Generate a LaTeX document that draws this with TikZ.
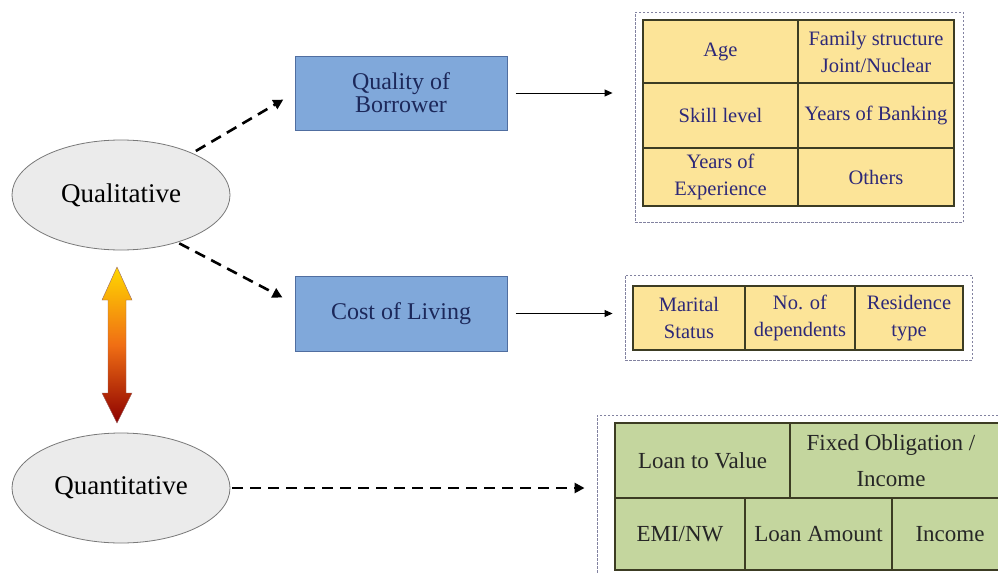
\documentclass[tikz,border=0pt]{standalone}
\usepackage{fontspec}
\setmainfont{Liberation Serif}
\usetikzlibrary{arrows.meta,shapes.geometric,calc}
\definecolor{ellfill}{RGB}{235,235,235}
\definecolor{elldraw}{RGB}{120,120,120}
\definecolor{bluefill}{RGB}{128,168,218}
\definecolor{bluedraw}{RGB}{80,110,160}
\definecolor{bluetext}{RGB}{28,40,90}
\definecolor{yelfill}{RGB}{252,228,152}
\definecolor{yeltext}{RGB}{45,40,120}
\definecolor{tabdraw}{RGB}{60,60,35}
\definecolor{grnfill}{RGB}{196,214,158}
\definecolor{outdraw}{RGB}{130,130,160}
\definecolor{ytop}{RGB}{255,215,0}
\definecolor{ymid}{RGB}{240,110,20}
\definecolor{ybot}{RGB}{140,0,0}
\tikzset{
  ell/.style={ellipse, draw=elldraw, line width=0.8pt, fill=ellfill, inner sep=0pt,
    minimum width=218pt, minimum height=110pt, font=\fontsize{27}{30}\selectfont},
  bbox/.style={rectangle, draw=bluedraw, line width=1pt, fill=bluefill, inner sep=0pt,
    minimum width=212pt, text=bluetext, align=center, font=\fontsize{24}{23}\selectfont},
  ycell/.style={rectangle, draw=tabdraw, line width=1.2pt, fill=yelfill, inner sep=0pt,
    text=yeltext, align=center, font=\fontsize{20.5}{27}\selectfont},
  gcell/.style={rectangle, draw=tabdraw, line width=1.2pt, fill=grnfill, inner sep=0pt,
    text=black!85, align=center, font=\fontsize{23}{36}\selectfont},
  gtext/.style={inner sep=0pt, text=black!85, align=center, font=\fontsize{23}{36}\selectfont},
  outbox/.style={rectangle, draw=outdraw, line width=0.9pt, dash pattern=on 2.5pt off 1.5pt, inner sep=0pt},
  dasharrow/.style={line width=2.6pt, dash pattern=on 11pt off 7pt, -{Triangle[length=10pt,width=10pt]}},
  solarrow/.style={line width=0.9pt, -{Triangle[length=8pt,width=7pt]}}
}
\begin{document}
\begin{tikzpicture}[x=1pt,y=-1pt]
\useasboundingbox (0,0) rectangle (998,573);
\fill[white] (0,0) rectangle (998,573);

% outer dashed boxes
\node[outbox, minimum width=328pt, minimum height=210pt] (o1) at (799,117) {};
\node[outbox, minimum width=347pt, minimum height=85pt] (o2) at (798.5,317.5) {};
\node[outbox, minimum width=423pt, minimum height=175pt] (o3) at (808.5,502.5) {};

% table 1
\node[ycell, minimum width=155pt, minimum height=63pt] (a11) at (720.5,51.5) {Age};
\node[ycell, minimum width=156pt, minimum height=63pt] (a12) at (876,51.5) {Family structure\\Joint/Nuclear};
\node[ycell, minimum width=155pt, minimum height=65pt] (a21) at (720.5,115.5) {Skill level};
\node[ycell, minimum width=156pt, minimum height=65pt] (a22) at (876,115.5) {Years of Banking};
\node[ycell, minimum width=155pt, minimum height=58pt] (a31) at (720.5,177) {Years of\\Experience};
\node[ycell, minimum width=156pt, minimum height=58pt] (a32) at (876,177) {Others};

% table 2
\node[ycell, minimum width=112pt, minimum height=64pt] (b1) at (689,318) {Marital\\Status};
\node[ycell, minimum width=110pt, minimum height=64pt] (b2) at (800,318) {No. of\\dependents};
\node[ycell, minimum width=108pt, minimum height=64pt] (b3) at (909,318) {Residence\\type};

% table 3
\node[gcell, minimum width=175pt, minimum height=75pt] (g11) at (702.5,460.5) {Loan to Value};
\node[gcell, minimum width=210pt, minimum height=75pt] (g12) at (895,460.5) {};
\node[gtext] (g12t) at (891,460.5) {Fixed Obligation /\\Income};
\node[gcell, minimum width=130pt, minimum height=72pt] (g21) at (680,534) {EMI/NW};
\node[gcell, minimum width=147pt, minimum height=72pt] (g22) at (818.5,534) {Loan Amount};
\node[gcell, minimum width=116pt, minimum height=72pt] (g23) at (950,534) {Income};

% ellipses
\node[ell] (qual) at (121,195) {Qualitative};
\node[ell] (quant) at (121,488) {Quantitative};

% blue boxes
\node[bbox, minimum height=74pt] (qob) at (401,93) {Quality of\\Borrower};
\node[bbox, minimum height=75pt] (cos) at (401,313.5) {Cost of Living};

% dashed arrows
\draw[dasharrow, shorten <=4pt, shorten >=13pt] (qual) -- (qob.west);
\draw[dasharrow, shorten <=2pt] (qual.-40) -- ([xshift=-12pt,yshift=16pt]cos.west);
\draw[dasharrow, shorten <=2pt, shorten >=12pt] (quant.east) -- (o3.west |- quant.east);

% solid arrows
\draw[solarrow, shorten <=8pt, shorten >=22pt] (qob.east) -- (o1.west |- qob.east);
\draw[solarrow, shorten <=8pt, shorten >=12pt] (cos.east) -- (o2.west |- cos.east);

% gradient double arrow
\shade[top color=ytop, bottom color=ybot, middle color=ymid, draw=ybot!60!black!60, line width=0.4pt]
  (117,267) -- (132,300) -- (126,300) -- (126,393) -- (132,393) -- (117,423)
  -- (102,393) -- (108,393) -- (108,300) -- (102,300) -- cycle;
\end{tikzpicture}
\end{document}
